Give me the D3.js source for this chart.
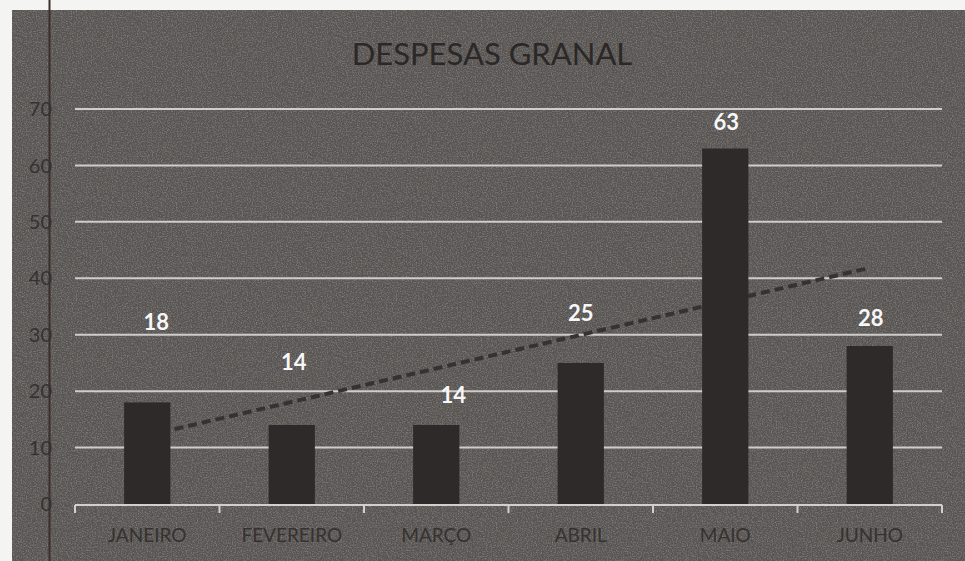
<!DOCTYPE html>
<html lang="pt">
<head>
<meta charset="utf-8">
<title>Despesas Granal</title>
<script src="https://d3js.org/d3.v7.min.js"></script>
<style>
  body { margin: 0; background: #f4f4f2; }
  svg { display: block; }
</style>
</head>
<body>
<script>
// data
var months = ["JANEIRO", "FEVEREIRO", "MARÇO", "ABRIL", "MAIO", "JUNHO"];
var despesas = [18, 14, 14, 25, 63, 28];
var yTicks = [0, 10, 20, 30, 40, 50, 60, 70];

var width = 965, height = 561;
var margin = {top: 109, right: 23, bottom: 57, left: 75};

// the value labels were dragged around by hand in the original, nudge them the same way (px)
var labelNudge = [[9, -80], [2, -63], [17, -30], [0, -50], [1, -26], [1, -28]];

var font = "Lato, 'Open Sans', sans-serif";

var svg = d3.select("body").append("svg")
    .attr("width", width)
    .attr("height", height);

// light grain, like the scan
var defs = svg.append("defs");
var f = defs.append("filter").attr("id", "grain").attr("x", 0).attr("y", 0).attr("width", 1).attr("height", 1);
f.append("feTurbulence").attr("type", "fractalNoise").attr("baseFrequency", 0.8).attr("numOctaves", 2).attr("seed", 4).attr("result", "n");
f.append("feColorMatrix").attr("in", "n").attr("type", "matrix")
    .attr("values", "0 0 0 0 0.55  0 0 0 0 0.54  0 0 0 0 0.53  0 0 0.6 0 -0.26")
    .attr("result", "a");
f.append("feComposite").attr("in", "a").attr("in2", "SourceGraphic").attr("operator", "in").attr("result", "b");
var m = f.append("feMerge");
m.append("feMergeNode").attr("in", "SourceGraphic");
m.append("feMergeNode").attr("in", "b");

svg.append("rect")
    .attr("x", 12).attr("y", 10)
    .attr("width", width - 12).attr("height", height - 10)
    .attr("fill", "#585552")
    .attr("filter", "url(#grain)");

var x = d3.scaleBand()
    .domain(months)
    .range([margin.left, width - margin.right])
    .paddingInner(0.68)
    .paddingOuter(0.34);

var y = d3.scaleLinear()
    .domain([0, 70])
    .range([height - margin.bottom, margin.top]);

// gridlines
svg.append("g")
    .selectAll("line")
    .data(yTicks.slice(1))
    .join("line")
    .attr("x1", margin.left)
    .attr("x2", width - margin.right)
    .attr("y1", function(d) { return y(d); })
    .attr("y2", function(d) { return y(d); })
    .attr("stroke", "#cfcdcb")
    .attr("stroke-width", 2);

// y labels
svg.append("g")
    .selectAll("text")
    .data(yTicks)
    .join("text")
    .attr("x", 52)
    .attr("y", function(d) { return y(d); })
    .attr("dy", "0.36em")
    .attr("text-anchor", "end")
    .attr("font-family", font)
    .attr("font-size", 20)
    .attr("fill", "#363231")
    .text(function(d) { return d; });

// linear trend line (least squares over the six months)
var n = despesas.length;
var xm = d3.mean(despesas, function(d, i) { return i; });
var ym = d3.mean(despesas);
var slope = d3.sum(despesas, function(d, i) { return (i - xm) * (d - ym); }) /
            d3.sum(despesas, function(d, i) { return (i - xm) * (i - xm); });
var trend = months.map(function(mo, i) { return [mo, ym + slope * (i - xm)]; });

svg.append("path")
    .datum([trend[0], trend[n - 1]])
    .attr("d", d3.line()
        .x(function(d) { return x(d[0]) + x.bandwidth() / 2; })
        .y(function(d) { return y(d[1]); }))
    .attr("fill", "none")
    .attr("stroke", "#363231")
    .attr("stroke-width", 4)
    .attr("stroke-dasharray", "9,5");

// bars
svg.append("g")
    .selectAll("rect")
    .data(despesas)
    .join("rect")
    .attr("x", function(d, i) { return x(months[i]); })
    .attr("y", function(d) { return y(d); })
    .attr("width", x.bandwidth())
    .attr("height", function(d) { return y(0) - y(d); })
    .attr("fill", "#2e2a29");

// x axis
var xAxis = svg.append("g")
    .attr("transform", "translate(0," + (y(0) + 1) + ")")
    .call(d3.axisBottom(x).tickSize(0).tickPadding(24));
xAxis.select(".domain").remove();
xAxis.append("line")
    .attr("x1", margin.left).attr("x2", width - margin.right)
    .attr("stroke", "#d2d0ce").attr("stroke-width", 2);
xAxis.append("g")
    .selectAll("line")
    .data(d3.range(months.length + 1))
    .join("line")
    .attr("x1", function(i) { return margin.left + i * x.step(); })
    .attr("x2", function(i) { return margin.left + i * x.step(); })
    .attr("y1", 0).attr("y2", 8)
    .attr("stroke", "#d2d0ce").attr("stroke-width", 2);
xAxis.selectAll(".tick text")
    .attr("font-family", font)
    .attr("font-size", 19)
    .attr("fill", "#363231");

// value labels
svg.append("g")
    .selectAll("text")
    .data(despesas)
    .join("text")
    .attr("x", function(d, i) { return x(months[i]) + x.bandwidth() / 2 + labelNudge[i][0]; })
    .attr("y", function(d, i) { return y(d) + labelNudge[i][1]; })
    .attr("dy", "0.36em")
    .attr("text-anchor", "middle")
    .attr("font-family", font)
    .attr("font-weight", "bold")
    .attr("font-size", 22)
    .attr("fill", "#f7f7f7")
    .text(function(d) { return d; });

// title
svg.append("text")
    .attr("x", 492)
    .attr("y", 54)
    .attr("dy", "0.36em")
    .attr("text-anchor", "middle")
    .attr("font-family", font)
    .attr("font-size", 31)
    .attr("fill", "#2b2827")
    .text("DESPESAS GRANAL");

// the page edge line that runs through the photographed chart
svg.append("line")
    .attr("x1", 49.5).attr("x2", 49.5)
    .attr("y1", 0).attr("y2", height)
    .attr("stroke", "#3a2f2b")
    .attr("stroke-width", 2);
</script>
</body>
</html>
